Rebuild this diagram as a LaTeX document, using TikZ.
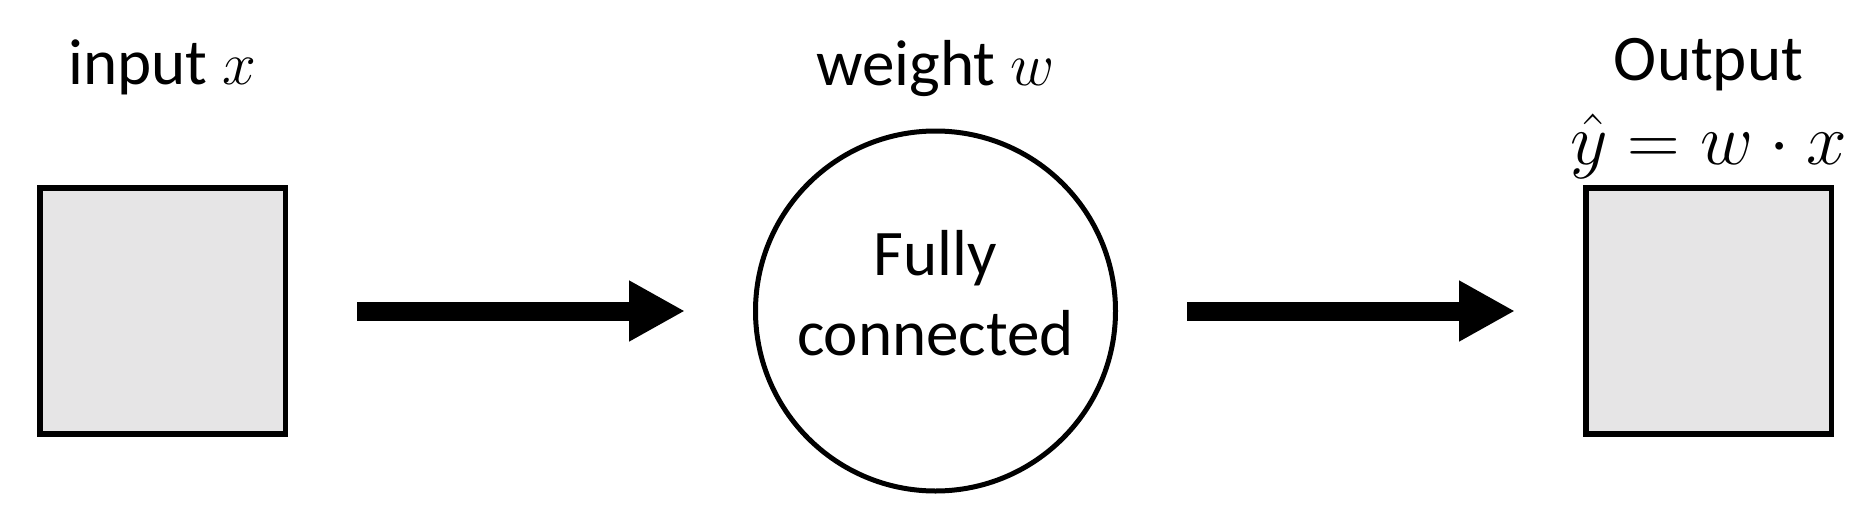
\documentclass[tikz,border=0pt]{standalone}
\usepackage{fontspec}
\setmainfont{Carlito}
\usepackage{amsmath}
\usepackage{tikz}
\usetikzlibrary{arrows.meta,positioning}

\definecolor{boxgray}{RGB}{230,229,230}

\begin{document}
\begin{tikzpicture}[
  x=0.1mm, y=-0.1mm,
  font=\fontsize{18.5}{22.7}\selectfont,
  box/.style={draw, line width=0.55mm, fill=boxgray, minimum width=24.55mm, minimum height=24.6mm, inner sep=0pt},
  unit/.style={draw, circle, line width=0.5mm, minimum size=36mm, align=center, inner sep=0pt, text depth=3.6mm},
  arr/.style={-{Triangle[length=5.6mm, width=5.7mm]}, line width=1.9mm, shorten <=6.9mm, shorten >=6.8mm},
  lab/.style={inner sep=0pt, anchor=base}
]
\useasboundingbox (0,0) rectangle (1861,522);

\node[box] (inp) at (162.5,311) {};
\node[unit, right=46.5mm of inp] (fc) {Fully\\connected};
\node[box, right=46.5mm of fc] (out) {};

\node[lab, above=10.1mm of inp.north, anchor=base] (inlab) {input $x$};
\node[lab, above=4.3mm of fc.north, anchor=base] (wlab) {weight $w$};
\node[lab, above=2.1mm of out.north, anchor=base, font=\fontsize{20}{24}\selectfont] (eq) {$\hat{y} = w \cdot x$};
\node[lab, above=8.4mm of eq.base, anchor=base] (outlab) {Output};

\draw[arr] (inp) -- (fc);
\draw[arr] (fc) -- (out);
\end{tikzpicture}
\end{document}
